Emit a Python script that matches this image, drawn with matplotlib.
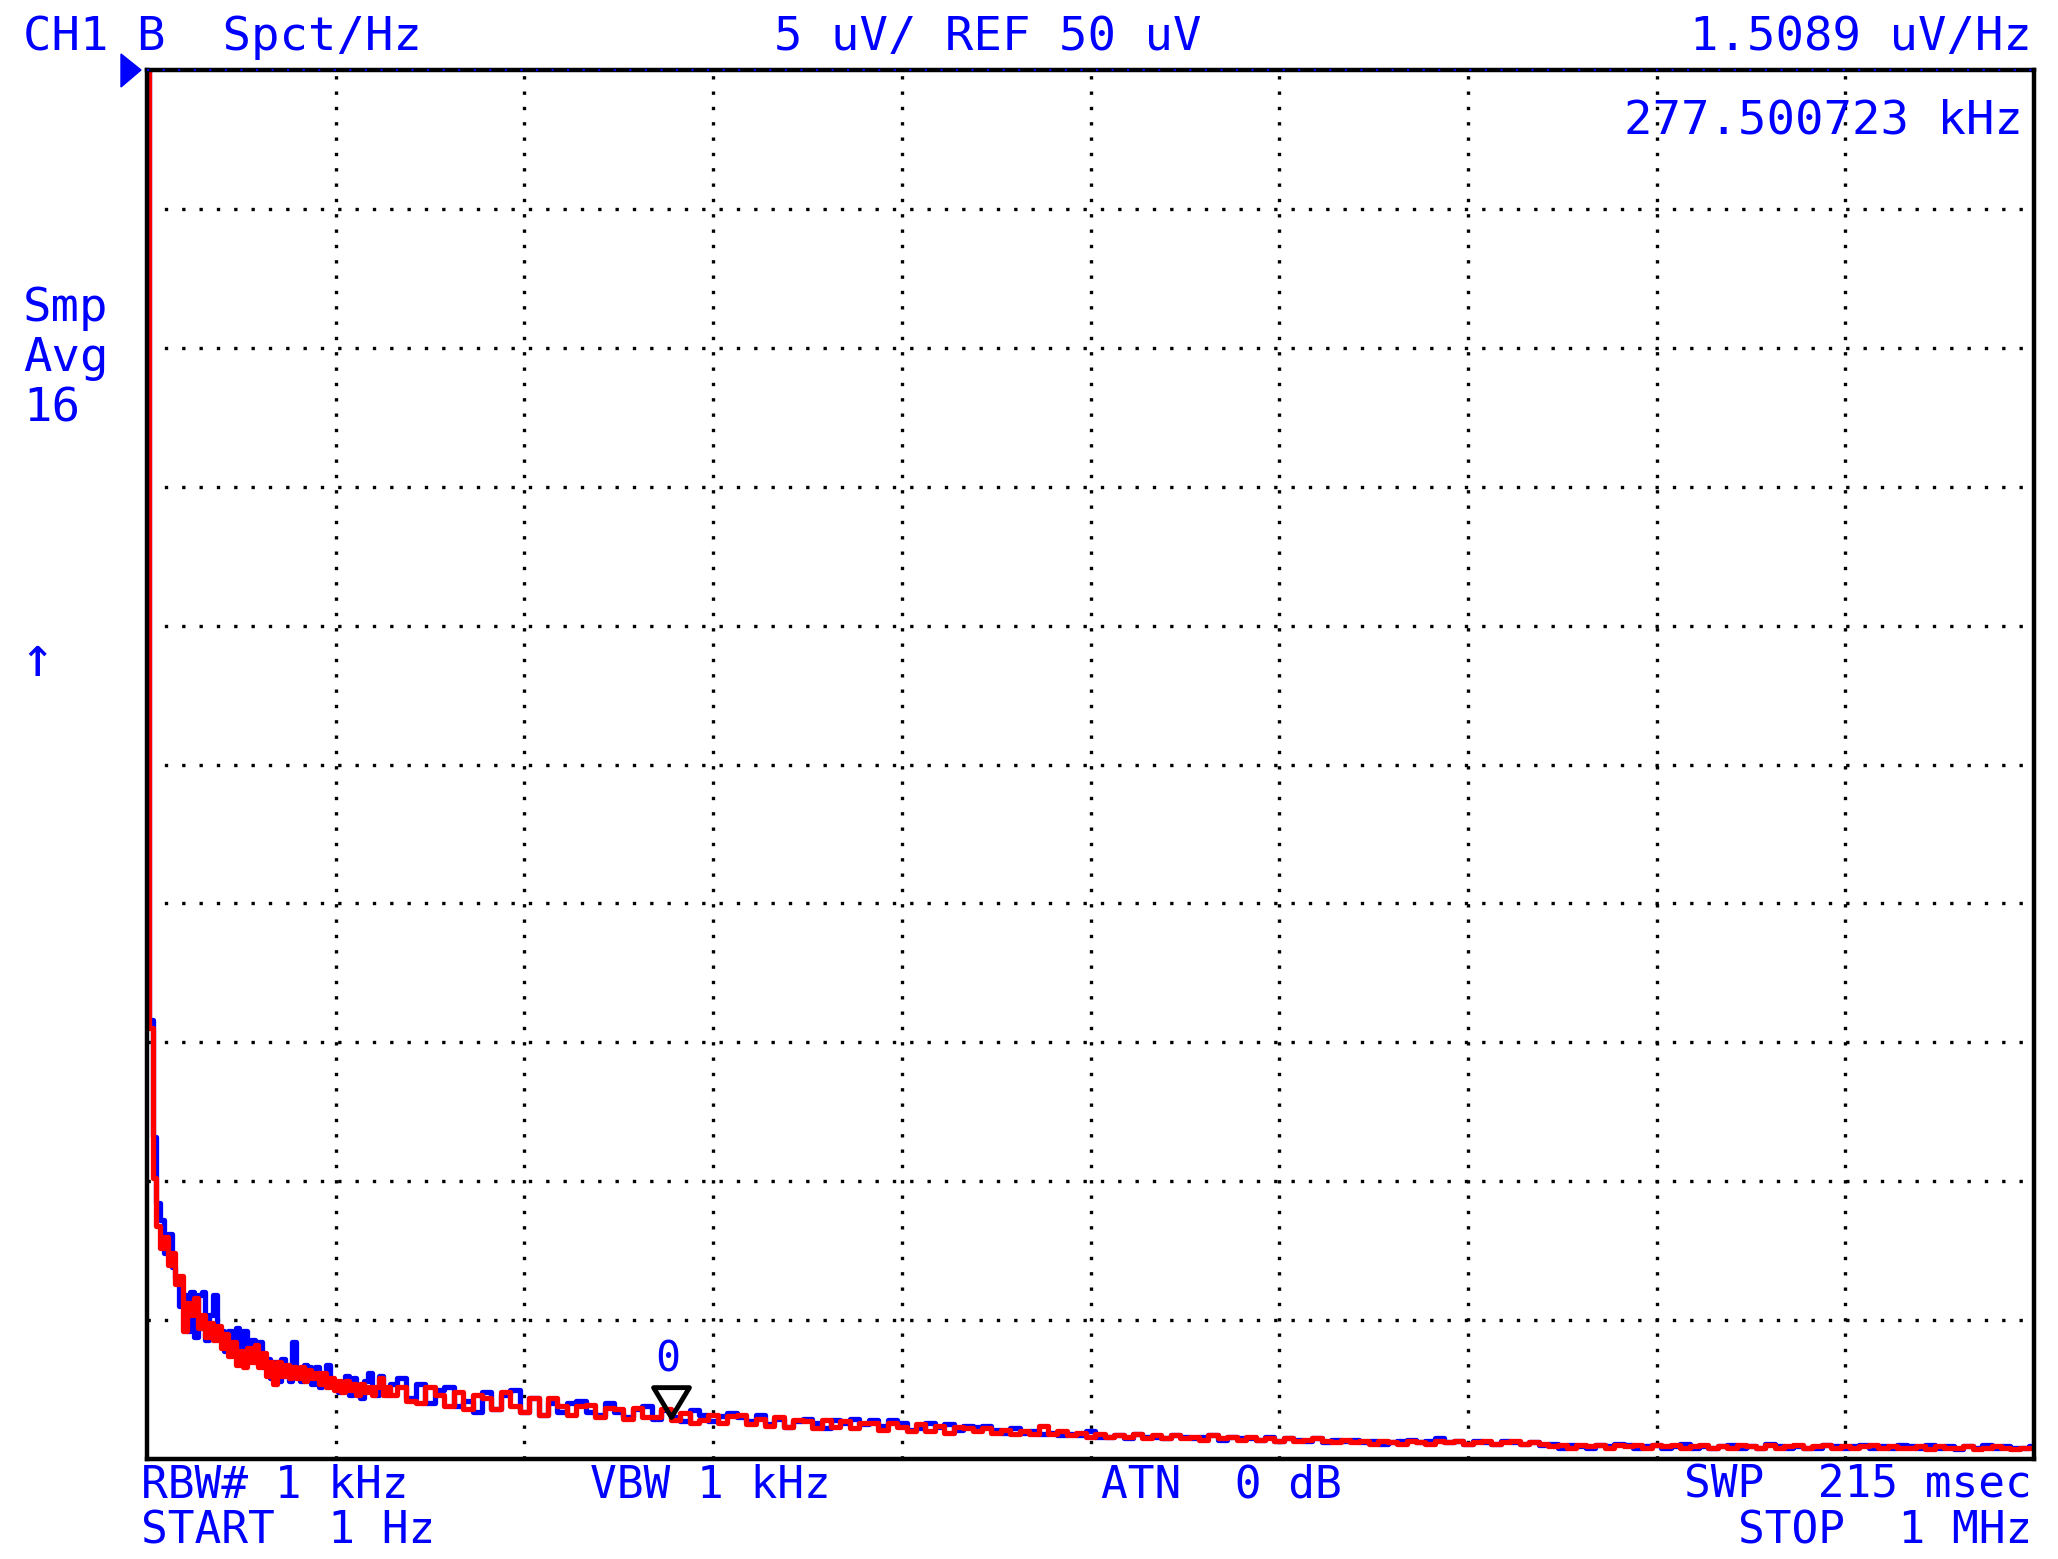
import numpy as np
import matplotlib
matplotlib.use("Agg")
import matplotlib.pyplot as plt
from matplotlib.patches import Polygon
from matplotlib.path import Path

# sweep: 1 Hz .. 1 MHz, finer bins at the low end where the trace falls fast
freq_khz = np.concatenate([np.arange(0, 131, 2), np.arange(135, 1001, 5)])

# red trace (uV/rtHz)
red_a = [60, 15.5, 10.1, 8.4, 7.6, 8.0, 7.0, 7.4, 6.3, 6.6,
         4.6, 5.6, 5.2, 5.8, 4.7, 5.2, 4.4, 4.9, 4.3, 4.8,
         4.0, 4.5, 3.7, 4.2, 3.4, 3.9, 3.3, 4.0, 3.5, 4.1,
         3.3, 3.8, 3.0, 3.5, 2.7, 3.5, 3.0, 3.4, 2.9, 3.3,
         2.9, 3.3, 2.8, 3.2, 2.9, 3.1, 2.7, 3.1, 2.6, 2.9,
         2.5, 2.8, 2.4, 2.8, 2.5, 2.7, 2.3, 2.7, 2.4, 2.6,
         2.3, 2.6, 2.9, 2.3, 2.6, 2.3]
red_b = [2.6, 2.1, 2.0, 2.6, 2.3, 1.9, 2.4, 1.8, 2.3, 2.2,
         1.8, 2.4, 1.9, 1.7, 2.2, 1.6, 2.2, 1.9, 1.6, 1.9,
         1.95, 1.5, 1.85, 1.8, 1.45, 1.85, 1.5, 1.5, 1.8, 1.4,
         1.65, 1.3, 1.4, 1.6, 1.3, 1.55, 1.6, 1.25, 1.45, 1.2,
         1.5, 1.15, 1.4, 1.35, 1.1, 1.4, 1.15, 1.35, 1.1, 1.3,
         1.3, 1.05, 1.3, 1.15, 1.0, 1.25, 1.0, 1.2, 0.95, 1.15,
         1.1, 1.0, 1.1, 0.95, 1.05, 0.9, 1.0, 0.9, 1.2, 0.9,
         1.0, 0.85, 0.95, 0.8, 0.9, 0.8, 0.85, 0.8, 0.9, 0.75,
         0.85, 0.75, 0.85, 0.75, 0.8, 0.7, 0.85, 0.75, 0.8, 0.7,
         0.8, 0.7, 0.75, 0.65, 0.75, 0.65, 0.7, 0.75, 0.65, 0.6,
         0.7, 0.6, 0.65, 0.55, 0.65, 0.6, 0.55, 0.65, 0.6, 0.55,
         0.65, 0.6, 0.65, 0.55, 0.6, 0.65, 0.55, 0.6, 0.65, 0.55,
         0.6, 0.55, 0.45, 0.5, 0.4, 0.5, 0.45, 0.5, 0.4, 0.5,
         0.45, 0.5, 0.4, 0.5, 0.45, 0.5, 0.4, 0.45, 0.5, 0.4,
         0.45, 0.4, 0.5, 0.45, 0.4, 0.5, 0.4, 0.45, 0.5, 0.4,
         0.45, 0.5, 0.4, 0.45, 0.4, 0.45, 0.5, 0.4, 0.45, 0.4,
         0.4, 0.45, 0.35, 0.45, 0.4, 0.4, 0.45, 0.35, 0.4, 0.45,
         0.4, 0.35, 0.4, 0.4]

# blue trace
blue_a = [60, 15.8, 11.6, 9.2, 8.6, 7.4, 8.1, 6.9, 6.5, 5.5,
          5.9, 4.6, 6.0, 4.4, 5.9, 6.0, 4.3, 5.2, 5.9, 4.4,
          4.6, 3.9, 4.6, 3.8, 4.7, 3.5, 4.6, 4.1, 4.3, 3.5,
          4.2, 3.3, 3.6, 2.9, 3.5, 2.8, 3.6, 3.0, 2.8, 4.2,
          3.2, 2.8, 3.4, 3.3, 2.7, 3.3, 2.6, 2.9, 3.4, 2.7,
          2.6, 2.4, 2.7, 3.0, 2.3, 2.9, 2.5, 2.2, 2.8, 3.1,
          2.4, 2.3, 3.0, 2.5, 2.3, 2.7]
blue_b = [2.9, 2.2, 2.7, 2.0, 2.5, 2.6, 1.9, 2.1, 1.7, 2.4,
          1.8, 2.3, 2.5, 1.7, 2.2, 1.6, 2.0, 1.7, 2.0, 2.1,
          1.7, 1.6, 2.0, 1.7, 1.5, 1.8, 1.9, 1.45, 1.75, 1.5,
          1.35, 1.75, 1.6, 1.35, 1.55, 1.65, 1.5, 1.35, 1.6, 1.25,
          1.45, 1.15, 1.35, 1.45, 1.3, 1.1, 1.4, 1.3, 1.45, 1.25,
          1.4, 1.2, 1.4, 1.3, 1.05, 1.1, 1.3, 1.15, 1.25, 1.05,
          1.2, 1.15, 1.2, 1.05, 0.95, 1.1, 0.95, 1.0, 0.9, 0.95,
          0.85, 0.9, 0.85, 1.0, 0.8, 0.8, 0.85, 0.75, 0.9, 0.8,
          0.8, 0.75, 0.85, 0.8, 0.75, 0.8, 0.85, 0.7, 0.8, 0.75,
          0.75, 0.7, 0.8, 0.65, 0.75, 0.7, 0.65, 0.75, 0.6, 0.7,
          0.65, 0.7, 0.6, 0.65, 0.55, 0.6, 0.65, 0.7, 0.6, 0.65,
          0.75, 0.6, 0.65, 0.55, 0.65, 0.6, 0.55, 0.65, 0.6, 0.55,
          0.6, 0.5, 0.55, 0.4, 0.5, 0.45, 0.4, 0.5, 0.45, 0.55,
          0.5, 0.4, 0.45, 0.5, 0.4, 0.45, 0.55, 0.4, 0.45, 0.4,
          0.45, 0.5, 0.4, 0.45, 0.4, 0.55, 0.45, 0.4, 0.45, 0.4,
          0.4, 0.5, 0.45, 0.4, 0.45, 0.5, 0.4, 0.45, 0.4, 0.5,
          0.45, 0.4, 0.5, 0.4, 0.45, 0.35, 0.45, 0.4, 0.5, 0.4,
          0.45, 0.4, 0.4, 0.45]

red = np.array(red_a + red_b)
blue = np.array(blue_a + blue_b)

marker_khz = 277.500723
marker_uv = 1.5089
ref_uv = 50
uv_per_div = 5
stop_khz = 1000

BLUE = "#0000FF"
RED = "#FF0000"
W, H = 2058, 1559
FONT = "DejaVu Sans Mono"
FS = 34


def fx(x):
    return x / W


def fy(y):
    return 1 - y / H


def label(x, y, s, ha="left", size=FS):
    fig.text(fx(x), fy(y), s, ha=ha, va="baseline", fontsize=size,
             family=FONT, color=BLUE)


fig = plt.figure(figsize=(W / 100, H / 100), dpi=100)
ax = fig.add_axes([fx(147), fy(1459), (2034 - 147) / W, (1459 - 70) / H])

ax.set_xlim(0, stop_khz)
ax.set_ylim(0, ref_uv)
ax.set_xticks(np.arange(100, stop_khz, 100))
ax.set_yticks(np.arange(uv_per_div, ref_uv, uv_per_div))
ax.tick_params(length=0, labelbottom=False, labelleft=False)
ax.xaxis.grid(True, color="black", lw=2.4, linestyle=(0, (1, 3.6)))
ax.yaxis.grid(True, color="black", lw=2.4, linestyle=(0, (1, 4.2)))
ax.set_axisbelow(True)
for sp in ax.spines.values():
    sp.set_linewidth(3.2)
    sp.set_color("black")
    sp.set_zorder(5)

# traces
ax.plot(freq_khz, blue, color=BLUE, lw=3.8, drawstyle="steps-mid", zorder=3)
ax.plot(freq_khz, red, color=RED, lw=3.8, drawstyle="steps-mid", zorder=4)

# reference level dots on the top edge
ax.axhline(ref_uv, color=BLUE, lw=1.6, linestyle=(0, (1, 6)), clip_on=False, zorder=6)

# marker 0
tri = Path([(-0.6, 1.0), (0.6, 1.0), (0.0, 0.0), (-0.6, 1.0)],
           [Path.MOVETO, Path.LINETO, Path.LINETO, Path.CLOSEPOLY])
ax.plot([marker_khz], [marker_uv], marker=tri, ms=43, mfc="none", mec="black",
        mew=3.5, linestyle="none", zorder=6)
ax.annotate("0", (marker_khz, marker_uv), xytext=(-2, 33), textcoords="offset points",
            ha="center", va="baseline", fontsize=30, family=FONT, color=BLUE)

# reference pointer at top-left
fig.patches.append(Polygon([(fx(121), fy(54)), (fx(141), fy(70)), (fx(121), fy(87))],
                           closed=True, color=BLUE, transform=fig.transFigure))

# header
label(23, 50, "CH1 B  Spct/Hz")
label(774, 50, "5 uV/ REF 50 uV")
label(2032, 50, "1.5089 uV/Hz", ha="right")
label(2023, 134, "277.500723 kHz", ha="right")

# left side
label(23, 321, "Smp")
label(23, 371, "Avg")
label(23, 421, "16")
label(20, 676, "\u2191", size=40)

# footer
label(141, 1498, "RBW# 1 kHz", size=32)
label(590, 1498, "VBW 1 kHz", size=32)
label(1101, 1498, "ATN  0 dB", size=32)
label(2032, 1498, "SWP  215 msec", ha="right", size=32)
label(141, 1543, "START  1 Hz", size=32)
label(2032, 1543, "STOP  1 MHz", ha="right", size=32)

fig.savefig("out.png", dpi=100, facecolor="white")
